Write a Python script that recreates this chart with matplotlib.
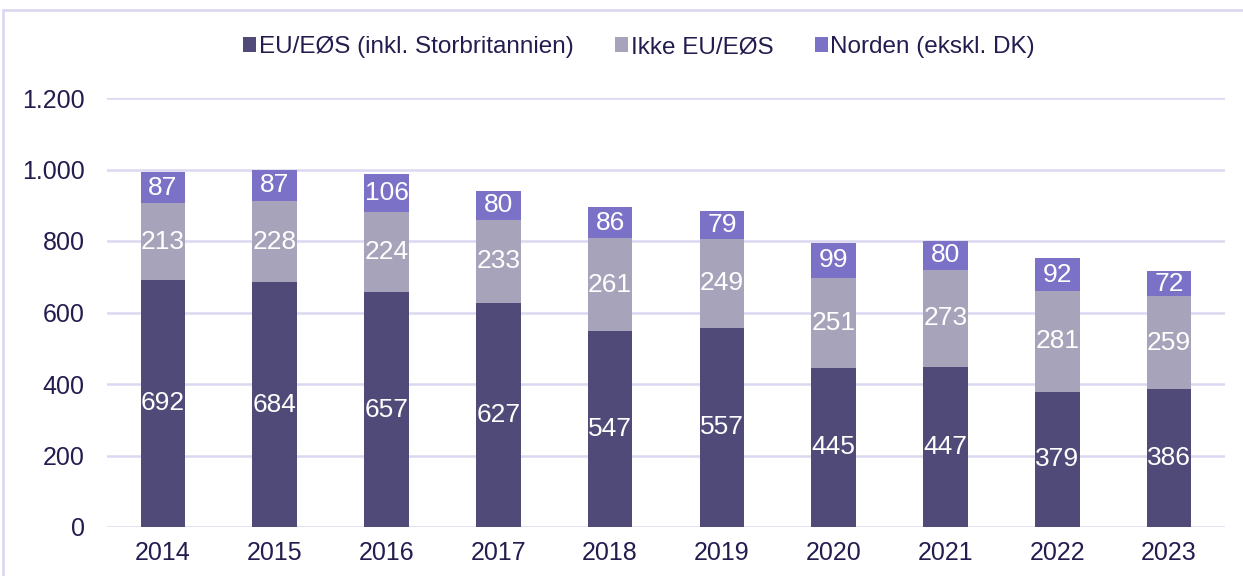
import matplotlib.pyplot as plt
from matplotlib.patches import Rectangle

plt.rcParams['font.family'] = ['Liberation Sans', 'DejaVu Sans']

years = ['2014', '2015', '2016', '2017', '2018', '2019', '2020', '2021', '2022', '2023']
eu = [692, 684, 657, 627, 547, 557, 445, 447, 379, 386]
ikke_eu = [213, 228, 224, 233, 261, 249, 251, 273, 281, 259]
norden = [87, 87, 106, 80, 86, 79, 99, 80, 92, 72]
labels = ['EU/EØS (inkl. Storbritannien)', 'Ikke EU/EØS', 'Norden (ekskl. DK)']
colors = ['#4f4a78', '#a7a3ba', '#7b72c8']
text_col = '#231d4f'
grid_col = '#dcd8f2'

fig = plt.figure(figsize=(12.43, 5.76), dpi=100)
ax = fig.add_axes([107 / 1243, 49 / 576, 1118 / 1243, 429 / 576])

x = range(len(years))
bottom = [0] * len(years)
for vals, lab, col in zip([eu, ikke_eu, norden], labels, colors):
    bars = ax.bar(x, vals, 0.4, bottom=bottom, color=col, label=lab, zorder=3)
    ax.bar_label(bars, labels=[str(v) for v in vals], label_type='center',
                 color='white', fontsize=19)
    bottom = [b + v for b, v in zip(bottom, vals)]

ax.set_xlim(-0.5, len(years) - 0.5)
ax.set_ylim(0, 1200)
ax.set_yticks(range(0, 1201, 200))
ax.set_yticklabels(['0', '200', '400', '600', '800', '1.000', '1.200'])
ax.set_xticks(list(x))
ax.set_xticklabels(years)
ax.tick_params(length=0, labelsize=18, colors=text_col, pad=10)
ax.tick_params(axis='y', pad=16)
ax.yaxis.grid(True, color=grid_col, linewidth=1.8, zorder=0)
for s in ax.spines.values():
    s.set_visible(False)

fig.legend(loc='center', bbox_to_anchor=(639 / 1243, 1 - 47 / 576), ncol=3,
           frameon=False, fontsize=17.5, labelcolor=text_col,
           handlelength=0.55, handleheight=0.55, handletextpad=0.1,
           columnspacing=1.7)

fig.patches.append(Rectangle((3 / 1243, -0.1), 1.2, 1 - 10 / 576 + 0.1,
                             transform=fig.transFigure, fill=False,
                             edgecolor=grid_col, linewidth=2))

plt.savefig('out.png', dpi=100)
